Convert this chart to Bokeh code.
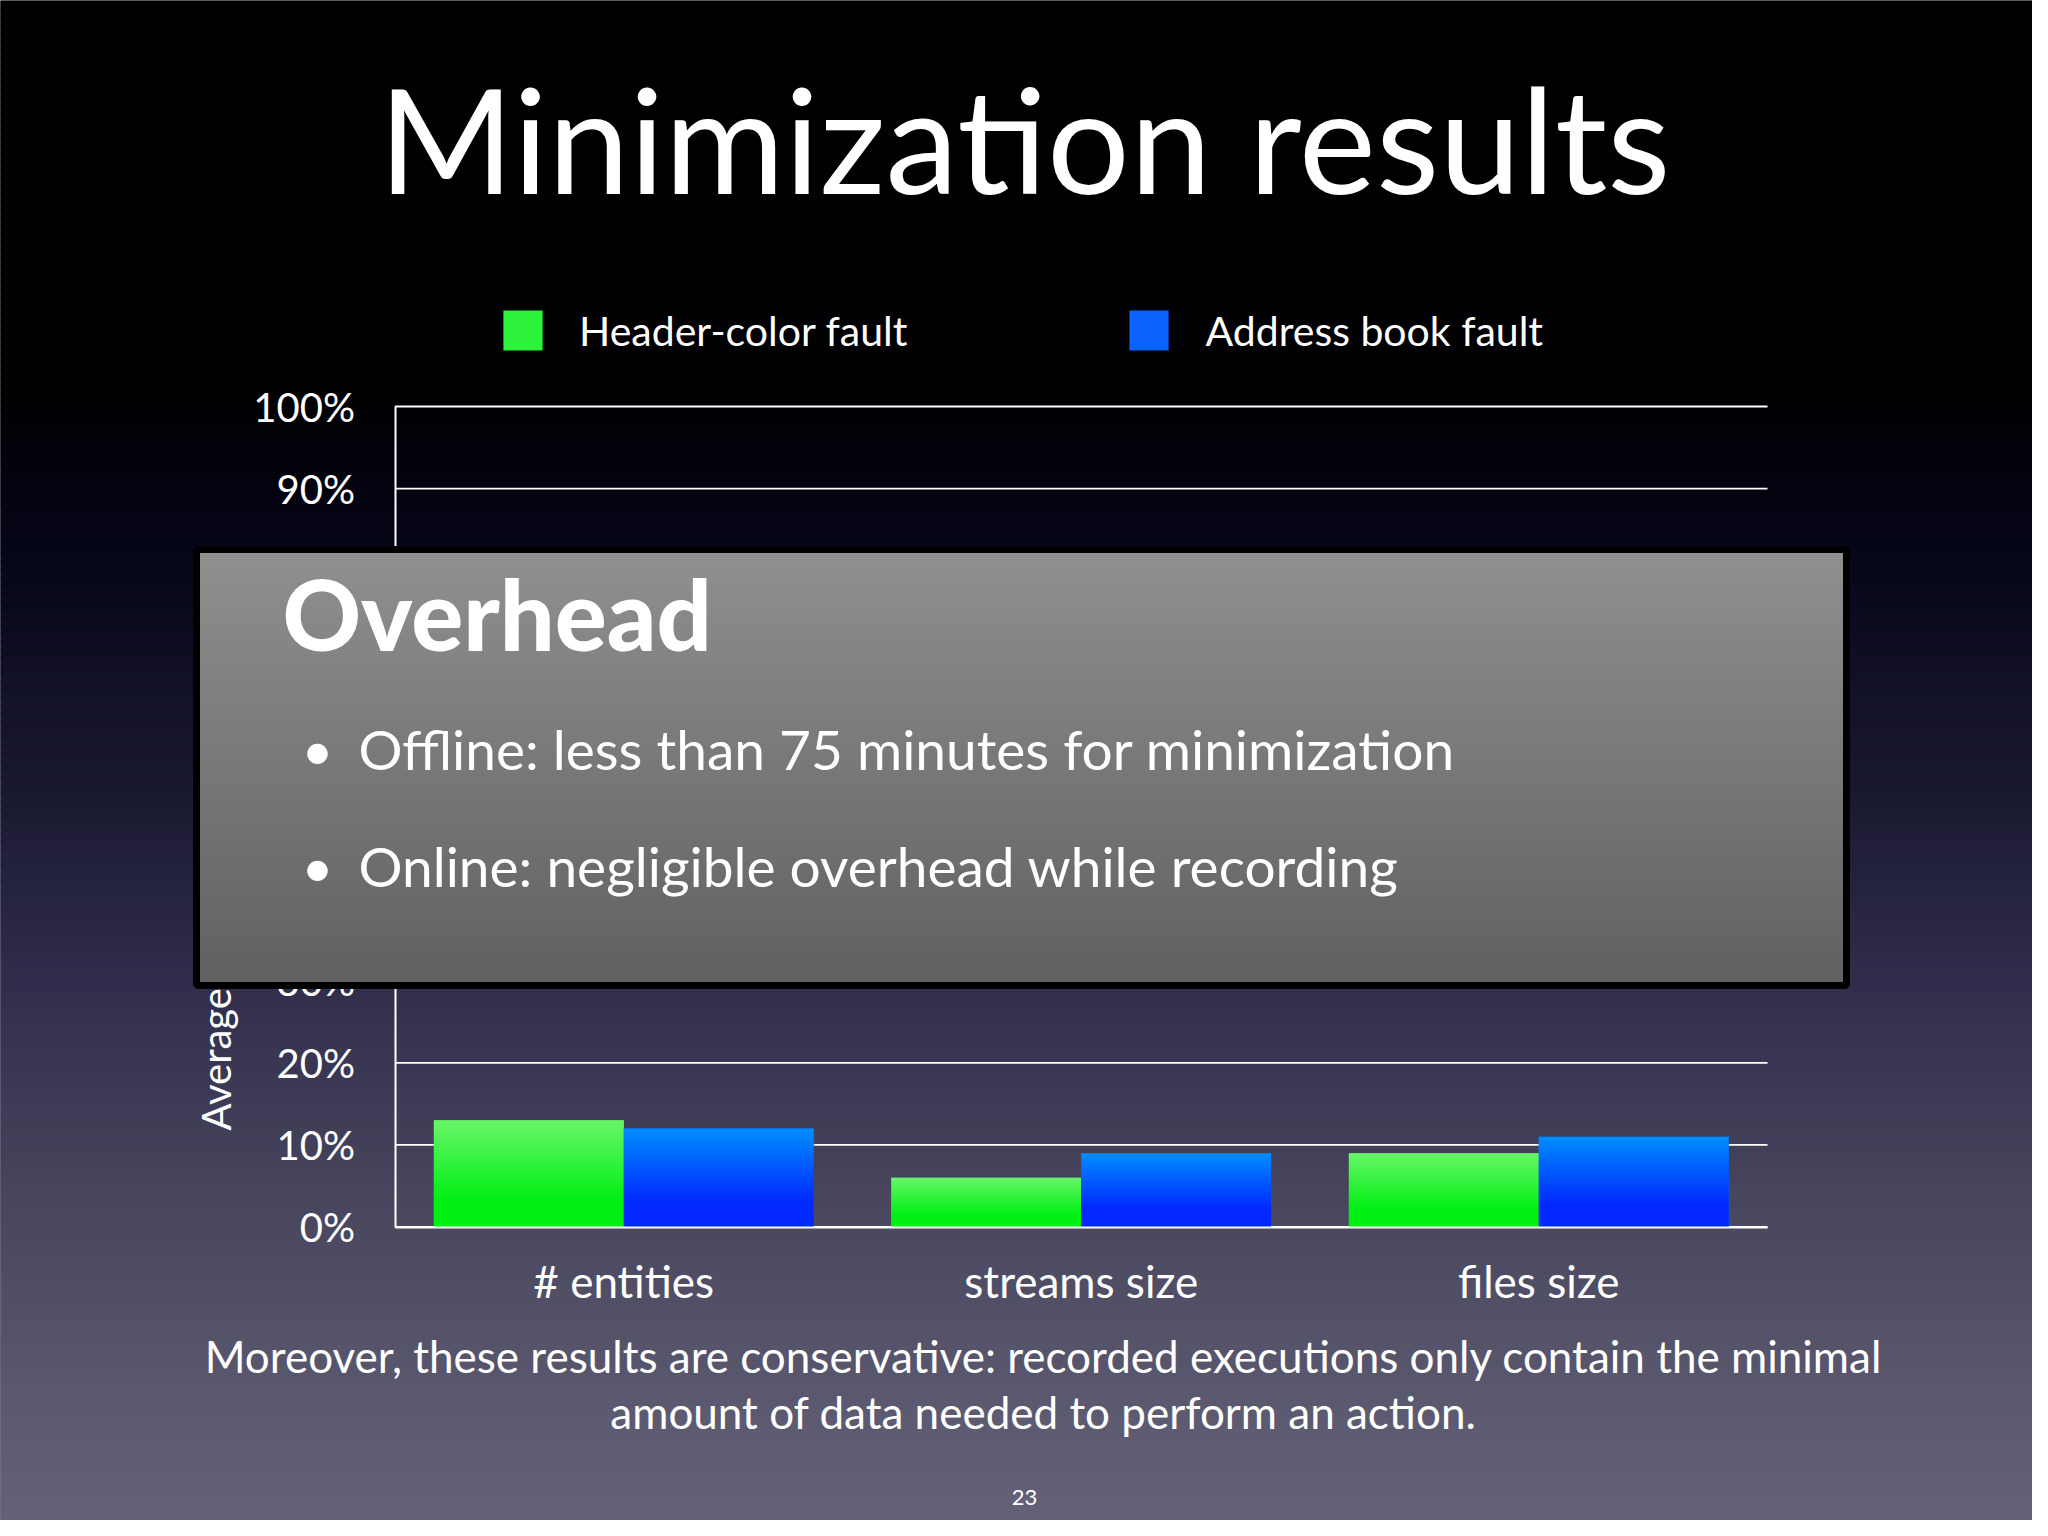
import math
from bokeh.plotting import figure
from bokeh.models import (ColumnDataSource, Range1d, FixedTicker, Label, BoxAnnotation, Legend, LegendItem)
from bokeh.transform import dodge
from bokeh.embed import file_html
from bokeh.resources import INLINE

# ---------------- data ----------------
categories = ["# entities", "streams size", "files size"]
header_color_fault = [13, 6, 9]
address_book_fault = [12, 9, 11]
series_names = ["Header-color fault", "Address book fault"]
y_ticks = [0, 10, 20, 30, 40, 50, 60, 70, 80, 90, 100]
y_tick_labels = ["0%", "10%", "20%", "30%", "40%", "50%", "60%", "70%", "80%", "90%", "100%"]
y_label_text = "Average size reduction"
title_text = "Minimization results"
overlay_title = "Overhead"
overlay_bullets = ["Offline: less than 75 minutes for minimization",
                   "Online: negligible overhead while recording"]
caption_lines = ["Moreover, these results are conservative: recorded executions only contain the minimal",
                 "amount of data needed to perform an action."]
page_number = "23"

# ---------------- layout (canvas pixels) ----------------
W, H = 2032, 1520
FL, FR, FT, FB = 394.5, 1767.0, 406.0, 1226.5   # plot area
NCAT = len(categories)
PX = (FR - FL) / NCAT
PY = (FB - FT) / 100.0
FONT = "Lato"

x_range = Range1d(-FL / PX, NCAT + (W - FR) / PX)
y_range = Range1d(-(H - FB) / PY, 100 + FT / PY)

p = figure(width=W, height=H, x_range=x_range, y_range=y_range, title=None,
           output_backend="svg", toolbar_location=None,
           min_border_left=0, min_border_right=0, min_border_top=0, min_border_bottom=0)
p.background_fill_color = "black"
p.border_fill_color = "black"
p.outline_line_color = None
p.xgrid.visible = False
p.ygrid.visible = False


def dx(cx):
    return (cx - FL) / PX


def dy(cy):
    return (FB - cy) / PY


def hexc(c):
    return "#%02x%02x%02x" % tuple(int(round(v)) for v in c)


def lerp_stops(stops, t):
    for (t0, c0), (t1, c1) in zip(stops, stops[1:]):
        if t0 <= t <= t1:
            f = (t - t0) / (t1 - t0) if t1 > t0 else 0
            return tuple(a + (b - a) * f for a, b in zip(c0, c1))
    return stops[-1][1] if t > stops[-1][0] else stops[0][1]


# ---------------- background gradient ----------------
bg_stops = [(0, (0, 0, 0)), (408, (0, 0, 3)), (540, (5, 5, 24)), (796, (26, 25, 50)),
            (967, (46, 44, 74)), (1180, (70, 68, 92)), (1435, (94, 92, 114)), (1536, (101, 99, 121))]
STEP = 8
for y0 in range(0, H, STEP):
    y1 = min(H, y0 + STEP + 1)
    col = hexc(lerp_stops(bg_stops, y0 + STEP / 2))
    p.add_layout(BoxAnnotation(left=dx(-2), right=dx(W + 2), top=dy(y0), bottom=dy(y1),
                               fill_color=col, fill_alpha=1, line_color=None, level="underlay"))

# ---------------- axes ----------------
cat_pos = [i + 0.5 for i in range(NCAT)]
for ax in (p.xaxis[0], p.yaxis[0]):
    ax.axis_line_color = "white"
    ax.axis_line_width = 2
    ax.major_tick_line_color = None
    ax.minor_tick_line_color = None
    ax.major_label_text_color = "white"
    ax.major_label_text_font = FONT
p.yaxis.fixed_location = 0
p.yaxis.bounds = (y_ticks[0], y_ticks[-1])
p.yaxis.ticker = FixedTicker(ticks=y_ticks)
p.yaxis.major_label_overrides = {t: l for t, l in zip(y_ticks, y_tick_labels)}
p.yaxis.major_label_text_font_size = "40px"
p.yaxis.major_label_standoff = 34
p.xaxis.fixed_location = 0
p.xaxis.bounds = (0, NCAT)
p.xaxis.ticker = FixedTicker(ticks=cat_pos)
p.xaxis.major_label_overrides = {pos: c for pos, c in zip(cat_pos, categories)}
p.xaxis.major_label_text_font_size = "44px"
p.xaxis.major_label_standoff = 22

# gridlines (horizontal, at each y tick)
p.segment(x0=[0] * len(y_ticks), x1=[NCAT] * len(y_ticks), y0=y_ticks, y1=y_ticks,
          line_color="white", line_width=1.8)

# ---------------- bars ----------------
source = ColumnDataSource(dict(x=cat_pos, g=header_color_fault, b=address_book_fault))
BW = 0.415
OFF = BW / 2
g_base = p.vbar(x=dodge("x", -OFF), top="g", width=BW, source=source,
                fill_color="#2cf23c", line_color=None)
b_base = p.vbar(x=dodge("x", OFF), top="b", width=BW, source=source,
                fill_color="#0a62ff", line_color=None)

# vertical gradient on each bar (slices computed from the bar values)
g_top, g_bot = (105, 245, 105), (0, 240, 20)
b_top, b_bot = (0, 142, 255), (0, 40, 255)
N = 30
for vals, ctop, cbot, off in ((header_color_fault, g_top, g_bot, -OFF),
                              (address_book_fault, b_top, b_bot, OFF)):
    sl = dict(x=[], bottom=[], top=[], color=[])
    for xp, v in zip(cat_pos, vals):
        for i in range(N):
            t = (i + 0.5) / N
            f = max(0.0, (t - 0.25) / 0.75)
            sl["x"].append(xp)
            sl["bottom"].append(v * i / N)
            sl["top"].append(v * (i + 1) / N + (v / N * 0.3 if i < N - 1 else 0))
            sl["color"].append(hexc(tuple(a + (b - a) * f for a, b in zip(cbot, ctop))))
    p.vbar(x=dodge("x", off), bottom="bottom", top="top", width=BW, source=ColumnDataSource(sl),
           fill_color="color", line_color=None)

# ---------------- title ----------------
p.add_layout(Label(x=dx(1024), y=dy(137), text=title_text, text_align="center",
                   text_baseline="middle", text_font=FONT, text_font_size="146px",
                   text_color="white"))

# ---------------- legend ----------------
legend = Legend(items=[LegendItem(label=series_names[0], renderers=[g_base]),
                       LegendItem(label=series_names[1], renderers=[b_base])],
                orientation="horizontal", location=(498, H - 355),
                glyph_width=49, glyph_height=50, label_standoff=32, spacing=217,
                label_height=50,
                label_text_font=FONT, label_text_font_size="41px", label_text_color="white",
                background_fill_alpha=0, border_line_alpha=0, padding=0, margin=0)
p.add_layout(legend)

# ---------------- y label ----------------
p.add_layout(Label(x=dx(215), y=dy(1130), text=y_label_text, angle=math.pi / 2,
                   text_align="left", text_baseline="middle", text_font=FONT,
                   text_font_size="40px", text_color="white"))

# ---------------- caption & page number ----------------
for txt, cy in zip(caption_lines, (1355, 1411)):
    p.add_layout(Label(x=dx(1043), y=dy(cy), text=txt, text_align="center", text_baseline="middle",
                       text_font=FONT, text_font_size="44px", text_color="white"))
p.add_layout(Label(x=dx(1024), y=dy(1497), text=page_number, text_align="center",
                   text_baseline="middle", text_font=FONT, text_font_size="22px", text_color="white"))

# ---------------- overlay box ----------------
OX0, OX1, OY0, OY1 = 196, 1846, 549, 985
ov_stops = [(OY0, (143, 145, 142)), (OY1, (96, 96, 96))]
for y0 in range(OY0, OY1, 4):
    y1 = min(OY1, y0 + 5)
    col = hexc(lerp_stops(ov_stops, y0 + 2))
    p.add_layout(BoxAnnotation(left=dx(OX0), right=dx(OX1), top=dy(y0), bottom=dy(y1),
                               fill_color=col, fill_alpha=1, line_color=None, level="overlay"))
p.add_layout(BoxAnnotation(left=dx(OX0), right=dx(OX1), top=dy(OY0), bottom=dy(OY1),
                           fill_alpha=0, line_color="black", line_alpha=1, line_width=7,
                           level="overlay"))
p.add_layout(Label(x=dx(282), y=dy(613), text=overlay_title, text_align="left",
                   text_baseline="middle", text_font="'Lato Black', Lato",
                   text_font_style="bold", text_font_size="97px", text_color="white", level="overlay"))
for txt, cy in zip(overlay_bullets, (748, 865)):
    p.add_layout(Label(x=dx(317), y=dy(cy), text="\u2022", text_align="center", text_baseline="middle",
                       text_font=FONT, text_font_size="55px", text_color="white", level="overlay"))
    p.add_layout(Label(x=dx(358), y=dy(cy), text=txt, text_align="left", text_baseline="middle",
                       text_font=FONT, text_font_size="55px", text_color="white", level="overlay"))

open("out.html", "w").write(file_html(p, INLINE))
